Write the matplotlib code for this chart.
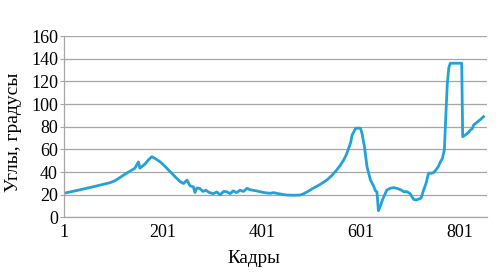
import matplotlib
matplotlib.use("Agg")
import matplotlib.pyplot as plt

frames = [1, 30, 60, 95, 105, 128, 145, 152, 155, 165, 172, 179, 186, 196, 206, 216,
          226, 236, 243, 250, 256, 263, 266, 270, 276, 282, 288, 295, 303, 310, 317,
          324, 330, 337, 343, 350, 357, 364, 371, 377, 383, 390, 397, 405, 418, 424,
          437, 451, 465, 478, 484, 494, 504, 518, 532, 542, 552, 559, 566, 571, 576,
          580, 583, 587, 590, 596, 600, 603, 608, 613, 620, 626, 630, 633, 636, 640,
          644, 653, 660, 667, 675, 683, 687, 694, 700, 707, 712, 717, 722, 727, 732,
          737, 742, 747, 752, 757, 761, 765, 769, 772, 775, 778, 781, 790, 800, 804,
          806, 812, 818, 821, 825, 828, 835, 842, 848]
angles = [21.3, 24, 27, 30.7, 32.5, 39, 43.4, 49, 43.5, 47, 50.7, 53.6, 52, 49, 45, 40.4,
          36, 31.6, 30, 33, 28, 27, 22, 26, 25.5, 23, 24, 22, 21, 22.5, 20,
          23, 22.7, 21, 23.5, 22, 24, 23, 25.7, 24.5, 24, 23.5, 22.7, 22, 21.3, 21.9,
          20.8, 19.8, 19.6, 19.8, 20.7, 23, 25.7, 29, 33, 37, 41.9, 46, 50.7, 55, 61,
          66, 72.7, 76, 78.6, 78.8, 78.6, 74, 62, 44.8, 33, 28, 23.5, 22.7, 6, 10,
          15.4, 24.2, 25.8, 26.3, 25.5, 24, 22.7, 22.7, 21, 16, 15.4, 16.2, 17, 24, 30,
          39, 39, 39.5, 42, 45, 49, 52, 59.5, 90, 118, 132, 136, 136, 136, 136,
          71.2, 73, 75, 77, 78, 81.5, 84, 86.5, 88.9]

xticks = [1, 201, 401, 601, 801]
yticks = [0, 20, 40, 60, 80, 100, 120, 140, 160]

plt.rcParams['font.family'] = ['Liberation Serif', 'DejaVu Serif']

fig = plt.figure(figsize=(5.0, 2.72), dpi=100)
ax = fig.add_axes([0.127, 0.2004, 0.847, 0.6672])

ax.plot(frames, angles, color='#22A2D8', linewidth=2.0, solid_joinstyle='round')

ax.set_xlim(1, 855)
ax.set_ylim(0, 160)
ax.set_xticks(xticks)
ax.set_xticklabels([str(t) for t in xticks])
ax.set_yticks(yticks)
ax.grid(axis='y', color='#A6A6A6', linewidth=0.9)
ax.set_axisbelow(True)
for s in ['top', 'right']:
    ax.spines[s].set_visible(False)
ax.spines['left'].set_color('#A6A6A6')
ax.spines['bottom'].set_color('#A6A6A6')
ax.spines['left'].set_linewidth(0.9)
ax.spines['bottom'].set_linewidth(0.9)
ax.tick_params(axis='y', length=3, color='#A6A6A6', labelsize=13, pad=1)
ax.tick_params(axis='x', length=0, labelsize=13, pad=5)

fig.text(0.508, 0.033, 'Кадры', fontsize=13.8, ha='center', va='baseline')
fig.text(0.027, 0.513, 'Углы, градусы', fontsize=14, rotation=90,
         ha='center', va='center')

fig.savefig('out.png', dpi=100)
